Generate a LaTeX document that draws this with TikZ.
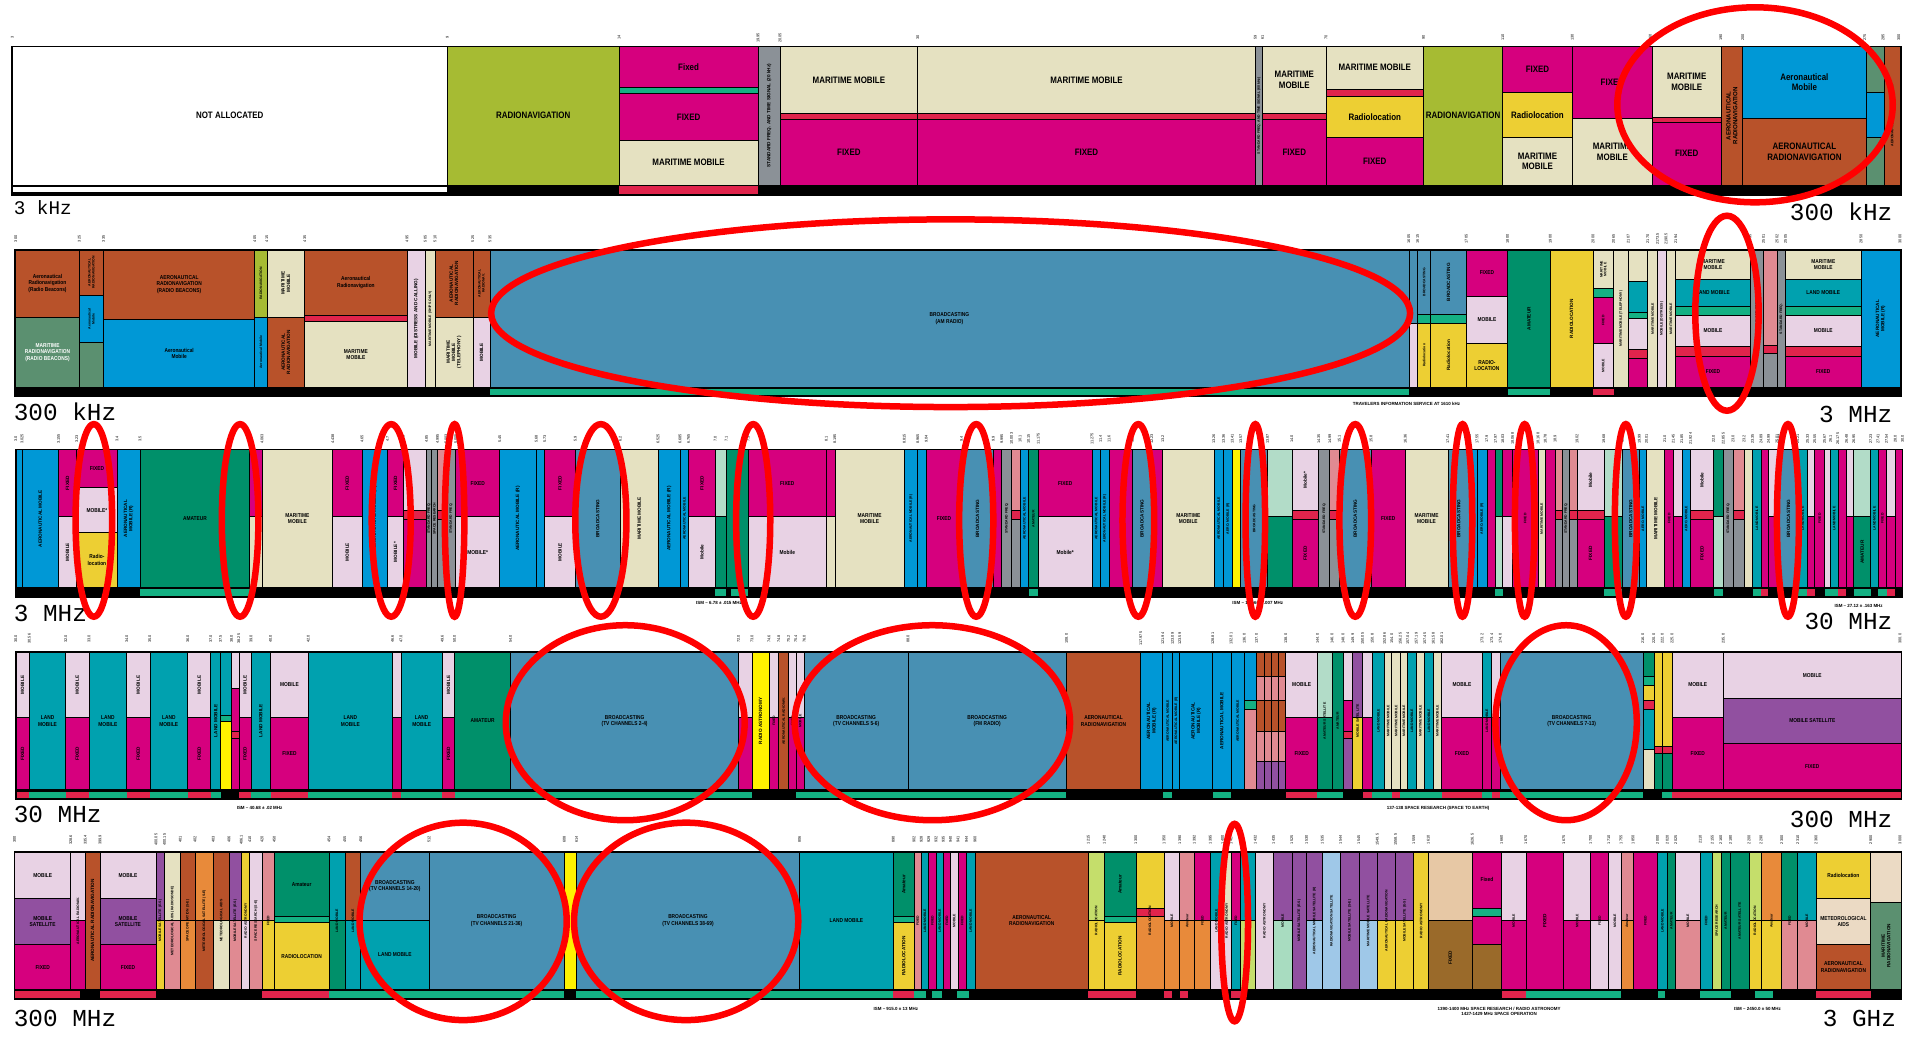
\documentclass[tikz,border=0pt]{standalone}
\usepackage{fontspec}
\setmainfont{Liberation Sans}
\setmonofont{Liberation Mono}
\definecolor{cFix}{HTML}{D6007E}
\definecolor{cMob}{HTML}{E8D2E4}
\definecolor{cMM}{HTML}{E5E1C1}
\definecolor{cRN}{HTML}{A6BB33}
\definecolor{cAR}{HTML}{B8522A}
\definecolor{cAM}{HTML}{0098D6}
\definecolor{cBC}{HTML}{4890B3}
\definecolor{cAmat}{HTML}{00906A}
\definecolor{cRL}{HTML}{EDCF33}
\definecolor{cLM}{HTML}{00A1AF}
\definecolor{cGrey}{HTML}{8B9197}
\definecolor{cPink}{HTML}{E08A92}
\definecolor{cRed}{HTML}{E0244C}
\definecolor{cGr}{HTML}{14B183}
\definecolor{cMRN}{HTML}{5B9070}
\definecolor{cMS}{HTML}{9150A0}
\definecolor{cLG}{HTML}{B2DCC8}
\definecolor{cRA}{HTML}{FFF200}
\definecolor{cMet}{HTML}{EBDAC4}
\definecolor{cLB}{HTML}{9FC8E8}
\definecolor{cOr}{HTML}{E88A3A}
\definecolor{cLime}{HTML}{C5DE6B}
\definecolor{cMint}{HTML}{A8DCC0}
\definecolor{cTan}{HTML}{E7C8A5}
\definecolor{cBrn}{HTML}{9A6A2A}
\newcounter{nn}
\tikzset{
  cell/.style={draw=black,line width=0.35pt},
  lb/.style={font=\fontsize{4.6}{5.2}\selectfont\bfseries,align=center,inner sep=0pt,xscale=0.85},
  lbs/.style={font=\fontsize{2.8}{3.2}\selectfont\bfseries,align=center,inner sep=0pt,xscale=0.85},
  lbv/.style={font=\fontsize{2.3}{2.6}\selectfont\bfseries,align=center,inner sep=0pt,rotate=90},
  lbt/.style={font=\fontsize{1.7}{1.9}\selectfont\bfseries,align=center,inner sep=0pt,rotate=90},
  tick/.style={font=\fontsize{1.9}{2}\selectfont,rotate=90,inner sep=0pt},
  note/.style={font=\fontsize{2.2}{2.4}\selectfont\bfseries,inner sep=0pt},
  ring/.style={draw=red,line width=3.2pt},
  freq/.style={font=\ttfamily\fontsize{12}{12}\selectfont,inner sep=0pt}
}
\newcommand\bxB[5]{\filldraw[cell,fill=#5] (#1,#3) rectangle (#2,#4);}
\newcommand\lbH[5]{\stepcounter{nn}\node[lb] (n\thenn) at ({(#1+#2)/2},{(#3+#4)/2}) {#5};}
\newcommand\lbS[5]{\stepcounter{nn}\node[lbs] (n\thenn) at ({(#1+#2)/2},{(#3+#4)/2}) {#5};}
\newcommand\lbW[5]{\stepcounter{nn}\node[lbs,text=white] (n\thenn) at ({(#1+#2)/2},{(#3+#4)/2}) {#5};}
\newcommand\lbV[5]{\stepcounter{nn}\node[lbv] (n\thenn) at ({(#1+#2)/2},{(#3+#4)/2}) {#5};}
\newcommand\lbT[5]{\stepcounter{nn}\node[lbt] (n\thenn) at ({(#1+#2)/2},{(#3+#4)/2}) {#5};}
\newcommand\colS[3]{\bxB{#1}{#2}{\Ty}{\By}{#3}}
\newcommand\colD[4]{\bxB{#1}{#2}{\Ty}{\Sy}{#3}\bxB{#1}{#2}{\Sy}{\By}{#4}}
\newcommand\colR[4]{\bxB{#1}{#2}{\Ty}{\Sa}{#3}\bxB{#1}{#2}{\Sa}{\Sb}{cRed}\bxB{#1}{#2}{\Sb}{\By}{#4}}
\begin{document}
\begin{tikzpicture}[x=0.6pt,y=-0.6pt]
\useasboundingbox (0,0) rectangle (1568,853);
\fill[white] (0,0) rectangle (1568,853);

% ================= BAND 1 : 3 kHz - 300 kHz =================
\def\Ty{38}\def\By{152}
\fill[black] (10,152) rectangle (1560,160);
\filldraw[cell,fill=white] (10,152.5) rectangle (367,158);
\fill[cRed] (508,152.5) rectangle (622,159);
\bxB{10}{367}{38}{152}{white}\lbH{10}{367}{38}{152}{NOT ALLOCATED}
\bxB{367}{508}{38}{152}{cRN}\lbH{367}{508}{38}{152}{RADIONAVIGATION}
\bxB{508}{622}{38}{72}{cFix}\lbH{508}{622}{38}{72}{Fixed}
\bxB{508}{622}{72}{77}{cGr}
\bxB{508}{622}{77}{115}{cFix}\lbH{508}{622}{77}{115}{FIXED}
\bxB{508}{622}{115}{152}{cMM}\lbH{508}{622}{115}{152}{MARITIME MOBILE}
\bxB{622}{640}{38}{152}{cGrey}\lbV{622}{640}{38}{152}{STANDARD FREQ. AND TIME SIGNAL (20 kHz)}
\bxB{640}{753}{38}{93}{cMM}\lbH{640}{753}{38}{93}{MARITIME MOBILE}
\bxB{640}{753}{93}{98}{cRed}
\bxB{640}{753}{98}{152}{cFix}\lbH{640}{753}{98}{152}{FIXED}
\bxB{753}{1030}{38}{93}{cMM}\lbH{753}{1030}{38}{93}{MARITIME MOBILE}
\bxB{753}{1030}{93}{98}{cRed}
\bxB{753}{1030}{98}{152}{cFix}\lbH{753}{1030}{98}{152}{FIXED}
\bxB{1030}{1036}{38}{152}{cGrey}\lbT{1030}{1036}{38}{152}{STANDARD FREQ. AND TIME SIGNAL (60 kHz)}
\bxB{1036}{1088}{38}{93}{cMM}\lbH{1036}{1088}{38}{93}{MARITIME\\MOBILE}
\bxB{1036}{1088}{93}{98}{cRed}
\bxB{1036}{1088}{98}{152}{cFix}\lbH{1036}{1088}{98}{152}{FIXED}
\bxB{1088}{1168}{38}{73}{cMM}\lbH{1088}{1168}{38}{73}{MARITIME MOBILE}
\bxB{1088}{1168}{73}{79}{cRed}
\bxB{1088}{1168}{79}{113}{cRL}\lbH{1088}{1168}{79}{113}{Radiolocation}
\bxB{1088}{1168}{113}{152}{cFix}\lbH{1088}{1168}{113}{152}{FIXED}
\bxB{1168}{1233}{38}{152}{cRN}\lbH{1168}{1233}{38}{152}{RADIONAVIGATION}
\bxB{1233}{1290}{38}{76}{cFix}\lbH{1233}{1290}{38}{76}{FIXED}
\bxB{1233}{1290}{76}{113}{cRL}\lbH{1233}{1290}{76}{113}{Radiolocation}
\bxB{1233}{1290}{113}{152}{cMM}\lbH{1233}{1290}{113}{152}{MARITIME\\MOBILE}
\bxB{1290}{1356}{38}{97}{cFix}\lbH{1290}{1356}{38}{97}{FIXED}
\bxB{1290}{1356}{97}{152}{cMM}\lbH{1290}{1356}{97}{152}{MARITIME\\MOBILE}
\bxB{1356}{1412}{38}{96}{cMM}\lbH{1356}{1412}{38}{96}{MARITIME\\MOBILE}
\bxB{1356}{1412}{96}{100}{cRed}
\bxB{1356}{1412}{100}{152}{cFix}\lbH{1356}{1412}{100}{152}{FIXED}
\bxB{1412}{1430}{38}{152}{cAR}\stepcounter{nn}\node[lbv,font=\fontsize{3}{3.4}\selectfont\bfseries] (n\thenn) at (1421,95) {AERONAUTICAL\\RADIONAVIGATION};
\bxB{1430}{1531}{38}{97}{cAM}\lbH{1430}{1531}{38}{97}{Aeronautical\\Mobile}
\bxB{1430}{1531}{97}{152}{cAR}\lbH{1430}{1531}{97}{152}{AERONAUTICAL\\RADIONAVIGATION}
\bxB{1531}{1546}{38}{76}{cMRN}\bxB{1531}{1546}{76}{113}{cAM}\bxB{1531}{1546}{113}{152}{cMRN}
\bxB{1546}{1559}{38}{152}{cAR}\lbT{1546}{1559}{38}{152}{AERONAUTICAL RADIONAVIGATION}
\draw[line width=0.7pt] (10,38) rectangle (1560,160);
\foreach \x/\t in {10/3,367/9,508/14,622/19.95,640/20.05,753/30,1030/59,1036/61,1088/70,1168/90,1233/110,1290/130,1354/160,1412/190,1430/200,1530/275,1545/285,1558/300}
  {\node[tick] (ta\x) at (\x,31) {\t};}
\node[freq,anchor=west,font=\ttfamily\fontsize{9.5}{10}\selectfont] (fa1) at (11,170) {3 kHz};
\node[freq,anchor=east] (fa2) at (1553,174) {300 kHz};

% ================= BAND 2 : 300 kHz - 3 MHz =================
\def\Ty{205}\def\By{318}
\fill[black] (12,318) rectangle (1560,325);
\fill[cGr] (402,319) rectangle (1156,324);
\fill[cGr] (1237,319) rectangle (1272,324);
\fill[cRed] (1307,319) rectangle (1324,324);
\bxB{13}{65}{205}{260}{cAR}\lbS{13}{65}{205}{260}{Aeronautical\\Radionavigation\\(Radio Beacons)}
\bxB{13}{65}{260}{318}{cMRN}\lbW{13}{65}{260}{318}{MARITIME\\RADIONAVIGATION\\(RADIO BEACONS)}
\bxB{65}{85}{205}{242}{cAR}\bxB{65}{85}{242}{281}{cAM}\bxB{65}{85}{281}{318}{cMRN}
\lbT{65}{85}{205}{242}{AERONAUTICAL\\RADIONAVIGATION}\lbT{65}{85}{242}{281}{Aeronautical\\Mobile}
\bxB{85}{209}{205}{262}{cAR}\lbS{85}{209}{205}{262}{AERONAUTICAL\\RADIONAVIGATION\\(RADIO BEACONS)}
\bxB{85}{209}{262}{318}{cAM}\lbS{85}{209}{262}{318}{Aeronautical\\Mobile}
\bxB{209}{219}{205}{260}{cRN}\bxB{209}{219}{260}{318}{cAM}
\lbT{209}{219}{205}{260}{RADIONAVIGATION}\lbT{209}{219}{260}{318}{Aeronautical Mobile}
\bxB{219}{250}{205}{260}{cMM}\lbV{219}{250}{205}{260}{MARITIME\\MOBILE}
\bxB{219}{250}{260}{318}{cAR}\lbV{219}{250}{260}{318}{AERONAUTICAL\\RADIONAVIGATION}
\bxB{250}{334}{205}{259}{cAR}\lbS{250}{334}{205}{259}{Aeronautical\\Radionavigation}
\bxB{250}{334}{259}{264}{cRed}
\bxB{250}{334}{264}{318}{cMM}\lbS{250}{334}{264}{318}{MARITIME\\MOBILE}
\bxB{334}{349}{205}{318}{cMob}\lbV{334}{349}{205}{318}{MOBILE (DISTRESS AND CALLING)}
\bxB{349}{357}{205}{318}{cMM}\lbT{349}{357}{205}{318}{MARITIME MOBILE (SHIPS ONLY)}
\bxB{357}{388}{205}{260}{cAR}\lbV{357}{388}{205}{260}{AERONAUTICAL\\RADIONAVIGATION}
\bxB{357}{388}{260}{318}{cMM}\lbV{357}{388}{260}{318}{MARITIME\\MOBILE\\(TELEPHONY)}
\bxB{388}{402}{205}{260}{cAR}\bxB{388}{402}{260}{318}{cMob}\lbV{388}{402}{260}{318}{MOBILE}
\lbT{388}{402}{205}{260}{AERONAUTICAL\\RADIONAV.}
\bxB{402}{1156}{205}{318}{cBC}\lbS{402}{1156}{205}{318}{BROADCASTING\\(AM RADIO)}
\bxB{1156}{1163}{205}{265}{cBC}\bxB{1156}{1163}{265}{318}{cMob}
\bxB{1163}{1174}{205}{258}{cBC}\bxB{1163}{1174}{258}{265}{cGr}\bxB{1163}{1174}{265}{318}{cRL}
\bxB{1174}{1203}{205}{258}{cBC}\bxB{1174}{1203}{258}{265}{cGr}\bxB{1174}{1203}{265}{318}{cRL}
\lbV{1174}{1203}{205}{258}{BROADCASTING}\lbV{1174}{1203}{265}{318}{Radiolocation}
\lbT{1163}{1174}{205}{258}{BROADCASTING}\lbT{1163}{1174}{265}{318}{Radiolocation}
\bxB{1203}{1237}{205}{243}{cFix}\lbS{1203}{1237}{205}{243}{FIXED}
\bxB{1203}{1237}{243}{282}{cMob}\lbS{1203}{1237}{243}{282}{MOBILE}
\bxB{1203}{1237}{282}{318}{cRL}\lbS{1203}{1237}{282}{318}{RADIO-\\LOCATION}
\bxB{1237}{1272}{205}{318}{cAmat}\lbV{1237}{1272}{205}{318}{AMATEUR}
\bxB{1272}{1307}{205}{318}{cRL}\lbV{1272}{1307}{205}{318}{RADIOLOCATION}
\bxB{1307}{1324}{205}{237}{cMM}\bxB{1307}{1324}{237}{244}{cGr}\bxB{1307}{1324}{244}{282}{cFix}\bxB{1307}{1324}{282}{318}{cMob}
\lbT{1307}{1324}{205}{237}{MARITIME\\MOBILE}\lbT{1307}{1324}{244}{282}{FIXED}\lbT{1307}{1324}{282}{318}{MOBILE}
\bxB{1324}{1336}{205}{318}{cMM}\lbT{1324}{1336}{205}{318}{MARITIME MOBILE (TELEPHONY)}
\bxB{1336}{1352}{205}{231}{cMM}\bxB{1336}{1352}{231}{256}{cLM}\bxB{1336}{1352}{256}{261}{cGr}\bxB{1336}{1352}{261}{287}{cMob}\bxB{1336}{1352}{287}{294}{cRed}\bxB{1336}{1352}{294}{318}{cFix}
\bxB{1352}{1360}{205}{318}{cMM}\bxB{1360}{1367}{205}{318}{cMob}\bxB{1367}{1375}{205}{318}{cMM}
\lbT{1352}{1360}{205}{318}{MARITIME MOBILE}\lbT{1360}{1367}{205}{318}{MOBILE (DISTRESS)}\lbT{1367}{1375}{205}{318}{MARITIME MOBILE}
\foreach \a/\b in {1375/1436,1465/1527}{
  \bxB{\a}{\b}{205}{229}{cMM}\bxB{\a}{\b}{229}{251}{cLM}\bxB{\a}{\b}{251}{259}{cGr}
  \bxB{\a}{\b}{259}{284}{cMob}\bxB{\a}{\b}{284}{292}{cRed}\bxB{\a}{\b}{292}{318}{cFix}
  \lbS{\a}{\b}{205}{229}{MARITIME\\MOBILE}\lbS{\a}{\b}{229}{251}{LAND MOBILE}
  \lbS{\a}{\b}{259}{284}{MOBILE}\lbS{\a}{\b}{292}{318}{FIXED}}
\bxB{1436}{1447}{205}{318}{cGrey}\lbT{1436}{1447}{205}{318}{STANDARD FREQ. AND TIME SIGNAL}
\bxB{1447}{1458}{205}{283}{cPink}\bxB{1447}{1458}{283}{290}{cRed}\bxB{1447}{1458}{290}{318}{cGrey}
\bxB{1458}{1465}{205}{318}{cGrey}\lbT{1458}{1465}{205}{318}{STANDARD FREQ.}
\bxB{1527}{1559}{205}{318}{cAM}\lbV{1527}{1559}{205}{318}{AERONAUTICAL\\MOBILE (R)}
\draw[line width=0.7pt] (12,205) rectangle (1560,325);
\foreach \x/\t in {13/300,65/325,85/335,209/405,219/415,250/435,334/495,349/505,357/510,388/525,402/535,1156/1605,1163/1615,1203/1705,1237/1800,1272/1900,1307/2000,1324/2065,1336/2107,1352/2170,1360/2173.5,1367/2190.5,1375/2194,1436/2495,1447/2501,1458/2502,1465/2505,1527/2850,1559/3000}
  {\node[tick] (tb\x) at (\x,196) {\t};}
\node[note] (nb1) at (1154,331) {TRAVELERS INFORMATION SERVICE AT 1610 kHz};
\node[freq,anchor=west] (fb1) at (11,338) {300 kHz};
\node[freq,anchor=east] (fb2) at (1553,340) {3 MHz};

% ================= BAND 3 : 3 MHz - 30 MHz =================
\def\Ty{369}\def\By{482}\def\Sy{424}\def\Sa{419}\def\Sb{426}
\fill[black] (13,482) rectangle (1561,490);
\foreach \a/\b in {115/205,587/596,600/614,844/852,1227/1233,1316/1331,1406/1414,1438/1445,1475/1483,1497/1502,1502/1508,1521/1535,1541/1548}
  {\fill[cGr] (\a,483.5) rectangle (\b,489);}
\foreach \a/\b in {1445/1451,1483/1489,1508/1515,1548/1555}
  {\fill[cRed] (\a,483.5) rectangle (\b,489);}
\foreach \a/\b/\c in {13/18/cAM,18/48/cAM,96/115/cAM,115/205/cAmat,215/273/cMM,297/318/cAM,350/354/cGrey,354/359/cGrey,366/374/cGrey,410/440/cAM,440/447/cAM,472/509/cBC,509/540/cMM,540/558/cAM,558/565/cAM,596/614/cAmat,685/742/cMM,742/753/cAM,753/760/cAM,760/789/cFix,789/815/cBC,815/822/cFix,822/830/cGrey,837/844/cAM,844/852/cAmat,896/903/cAM,903/910/cAM,910/929/cFix,929/945/cBC,945/954/cFix,954/996/cMM,996/1004/cAM,1004/1011/cAM,1011/1018/cRA,1018/1040/cBC,1082/1091/cGrey,1099/1125/cBC,1125/1153/cFix,1153/1188/cMM,1188/1206/cBC,1206/1212/cAM,1212/1220/cAM,1220/1227/cFix,1241/1262/cFix,1262/1268/cMM,1268/1276/cFix,1282/1288/cGrey,1331/1345/cBC,1345/1351/cAM,1351/1366/cMM,1366/1373/cFix,1380/1387/cAM,1414/1422/cGrey,1431/1438/cMM,1438/1445/cLM,1445/1451/cFix,1458/1460/cRA,1460/1475/cBC,1475/1483/cLM,1489/1497/cFix,1497/1502/cMob,1502/1508/cLM,1508/1515/cFix,1535/1541/cLM,1541/1548/cFix,1555/1561/cFix}
  {\colS{\a}{\b}{\c}}
\foreach \a/\b/\c/\d in {48/63/cFix/cMob,205/215/cFix/cMM,273/297/cFix/cMob,318/331/cFix/cMob,374/410/cFix/cMob,447/472/cFix/cMob,565/587/cFix/cMob,587/596/cLG/cAmat,614/678/cFix/cMob,678/685/cFix/cMM,852/896/cFix/cMob,1040/1060/cLG/cAmat,1227/1233/cAmat/cLG,1233/1241/cFix/cMob,1316/1331/cLG/cAmat,1373/1380/cMob/cFix,1406/1414/cAmat/cLG,1451/1458/cMob/cFix,1483/1489/cMob/cFix,1515/1521/cMob/cFix,1521/1535/cLG/cAmat,1548/1555/cMob/cFix}
  {\colD{\a}{\b}{\c}{\d}}
\foreach \a/\b/\c/\d in {331/350/cMob/cFix,359/366/cPink/cGrey,830/837/cPink/cGrey,1060/1082/cMob/cFix,1091/1099/cPink/cGrey,1276/1282/cPink/cGrey,1288/1294/cPink/cGrey,1294/1316/cMob/cFix,1387/1406/cMob/cFix,1422/1431/cPink/cGrey}
  {\colR{\a}{\b}{\c}{\d}}
\bxB{63}{96}{369}{400}{cFix}\bxB{63}{96}{400}{437}{cMob}\bxB{63}{96}{437}{482}{cRL}
\lbV{18}{48}{369}{482}{AERONAUTICAL MOBILE}
\lbV{48}{63}{369}{424}{FIXED}\lbV{48}{63}{424}{482}{MOBILE}
\lbS{63}{96}{369}{400}{FIXED}\lbS{63}{96}{400}{437}{MOBILE*}\lbS{63}{96}{437}{482}{Radio-\\location}
\lbV{96}{115}{369}{482}{AERONAUTICAL\\MOBILE (R)}
\lbS{115}{205}{369}{482}{AMATEUR}
\lbS{215}{273}{369}{482}{MARITIME\\MOBILE}
\lbV{273}{297}{369}{424}{FIXED}\lbV{273}{297}{424}{482}{MOBILE}
\lbV{297}{318}{369}{482}{AERONAUTICAL MOBILE (R)}
\lbV{318}{331}{369}{424}{FIXED}\lbV{318}{331}{424}{482}{MOBILE*}
\lbS{374}{410}{369}{424}{FIXED}\lbS{374}{410}{424}{482}{MOBILE*}
\lbV{410}{440}{369}{482}{AERONAUTICAL MOBILE (R)}
\lbV{447}{472}{369}{424}{FIXED}\lbV{447}{472}{424}{482}{MOBILE}
\lbV{472}{509}{369}{482}{BROADCASTING}
\lbV{509}{540}{369}{482}{MARITIME MOBILE}
\lbV{540}{558}{369}{482}{AERONAUTICAL MOBILE (R)}
\lbV{565}{587}{369}{424}{FIXED}\lbV{565}{587}{424}{482}{Mobile}
\lbV{596}{614}{369}{482}{AMATEUR}
\lbS{614}{678}{369}{424}{FIXED}\lbS{614}{678}{424}{482}{Mobile}
\lbS{685}{742}{369}{482}{MARITIME\\MOBILE}
\lbS{760}{789}{369}{482}{FIXED}
\lbV{789}{815}{369}{482}{BROADCASTING}
\lbS{852}{896}{369}{424}{FIXED}\lbS{852}{896}{424}{482}{Mobile*}
\lbV{929}{945}{369}{482}{BROADCASTING}
\lbS{954}{996}{369}{482}{MARITIME\\MOBILE}
\lbV{1060}{1082}{369}{419}{Mobile*}\lbV{1060}{1082}{426}{482}{FIXED}
\lbV{1099}{1125}{369}{482}{BROADCASTING}
\lbS{1125}{1153}{369}{482}{FIXED}
\lbS{1153}{1188}{369}{482}{MARITIME\\MOBILE}
\lbV{1188}{1206}{369}{482}{BROADCASTING}
\lbV{1294}{1316}{369}{419}{Mobile}\lbV{1294}{1316}{426}{482}{FIXED}
\lbV{1331}{1345}{369}{482}{BROADCASTING}
\lbV{1351}{1366}{369}{482}{MARITIME MOBILE}
\lbV{1387}{1406}{369}{419}{Mobile}\lbV{1387}{1406}{426}{482}{FIXED}
\lbV{1460}{1475}{369}{482}{BROADCASTING}
\lbV{1521}{1535}{424}{482}{AMATEUR}
\foreach \a/\b/\t in {350/354/STANDARD FREQ.,354/359/SPACE RESEARCH,366/374/STANDARD FREQ.,558/565/AERONAUTICAL MOBILE,742/753/AERONAUTICAL MOBILE (R),822/830/STANDARD FREQ.,837/844/AERONAUTICAL MOBILE,844/852/AMATEUR,896/903/AERONAUTICAL MOBILE,903/910/AERONAUTICAL MOBILE (R),996/1004/AERONAUTICAL MOBILE,1004/1011/AERO. MOBILE (R),1018/1040/BROADCASTING,1082/1091/STANDARD FREQ.,1206/1212/AERO. MOBILE,1212/1220/AERO. MOBILE (R),1241/1262/FIXED,1262/1268/MARITIME MOBILE,1282/1288/STANDARD FREQ.,1345/1351/AERO. MOBILE,1366/1373/FIXED,1380/1387/AERO. MOBILE,1414/1422/STANDARD FREQ.,1438/1445/LAND MOBILE,1475/1483/LAND MOBILE,1489/1497/FIXED,1502/1508/LAND MOBILE,1535/1541/LAND MOBILE,1541/1548/FIXED}
  {\lbT{\a}{\b}{369}{482}{\t}}
\draw[line width=0.7pt] (13,369) rectangle (1561,490);
\foreach \x/\t in {13/3.0,18/3.025,48/3.155,63/3.23,96/3.4,115/3.5,205/4.0,215/4.063,273/4.438,297/4.65,318/4.7,331/4.75,350/4.85,359/4.995,366/5.003,374/5.005,410/5.45,440/5.68,447/5.73,472/5.9,509/6.2,540/6.525,558/6.685,565/6.765,587/7.0,596/7.1,614/7.3,678/8.1,685/8.195,742/8.815,753/8.965,760/9.04,789/9.4,815/9.9,822/9.995,830/10.003,837/10.1,844/10.15,852/11.175,896/11.275,903/11.4,910/11.6,929/12.1,945/12.23,954/13.2,996/13.26,1004/13.36,1011/13.41,1018/13.57,1040/13.87,1060/14.0,1082/14.35,1091/14.99,1099/15.1,1125/15.8,1153/16.36,1188/17.41,1206/17.48,1212/17.55,1220/17.9,1227/17.97,1233/18.03,1241/18.068,1262/18.168,1268/18.78,1276/18.9,1294/19.02,1316/19.68,1331/19.8,1345/19.99,1351/20.01,1366/21.0,1373/21.45,1380/21.85,1387/21.924,1406/22.0,1414/22.855,1422/23.0,1431/23.2,1438/23.35,1445/24.89,1451/24.99,1458/25.01,1460/25.07,1475/25.21,1483/25.33,1489/25.55,1497/25.67,1502/26.1,1508/26.175,1515/26.48,1521/26.95,1535/27.23,1541/27.41,1548/27.54,1555/28.0,1561/30.0}
  {\node[tick] (tc\x) at (\x,360) {\t};}
\node[note] (nc1) at (590,495) {ISM -- 6.78 ± .015 MHz};
\node[note] (nc2) at (1032,495) {ISM -- 13.560 ± .007 MHz};
\node[note] (nc3) at (1525,497) {ISM -- 27.12 ± .163 MHz};
\node[freq,anchor=west] (fc1) at (11,503) {3 MHz};
\node[freq,anchor=east] (fc2) at (1553,510) {30 MHz};

% ================= BAND 4 : 30 MHz - 300 MHz =================
\def\Ty{535}\def\By{648}\def\Sy{589}
\fill[black] (13,648) rectangle (1560,656);
\foreach \a/\b in {13/24,54/73,104/123,154/173,196/206,222/253,322/329,363/373,1055/1081,1118/1126,1142/1149,1183/1216,1224/1231,1372/1414,1414/1560}
  {\fill[cRed] (\a,649.5) rectangle (\b,655);}
\foreach \a/\b in {24/54,73/104,123/154,173/181,206/222,253/322,329/363,373/419,419/606,606/617,653/660,660/745,745/875,954/962,995/1010,1081/1093,1093/1102,1126/1136,1136/1142,1149/1155,1155/1162,1162/1169,1169/1176,1176/1183,1216/1224,1231/1348,1364/1372}
  {\fill[cGr] (\a,649.5) rectangle (\b,655);}
\foreach \a/\b/\c in {24/54/cLM,73/104/cLM,123/154/cLM,173/181/cLM,206/222/cLM,253/322/cLM,329/363/cLM,373/419/cAmat,419/606/cBC,617/631/cRA,639/647/cAR,660/745/cBC,745/875/cBC,875/936/cAR,936/954/cAM,954/962/cAM,962/968/cAM,968/995/cAM,995/1010/cAM,1010/1021/cAM,1093/1102/cAmat,1126/1136/cLM,1136/1142/cMM,1142/1149/cMM,1149/1155/cMM,1155/1162/cLM,1162/1169/cMM,1169/1176/cLM,1176/1183/cMM,1231/1348/cBC}
  {\colS{\a}{\b}{\c}}
\foreach \a/\b/\c/\d in {13/24/cMob/cFix,54/73/cMob/cFix,104/123/cMob/cFix,154/173/cMob/cFix,196/206/cMob/cFix,222/253/cMob/cFix,322/329/cMob/cFix,363/373/cMob/cFix,606/617/cMob/cFix,631/639/cMob/cFix,647/653/cMob/cFix,653/660/cMob/cFix,1055/1081/cMob/cFix,1081/1093/cLG/cAmat,1110/1118/cMS/cRL,1118/1126/cMob/cFix,1183/1216/cMob/cFix,1216/1224/cLM/cFix,1224/1231/cMob/cFix,1372/1414/cMob/cFix}
  {\colD{\a}{\b}{\c}{\d}}
\bxB{181}{190}{535}{587}{cLM}\bxB{181}{190}{587}{592}{cGr}\bxB{181}{190}{592}{648}{cRA}
\bxB{190}{196}{535}{565}{cMob}\bxB{190}{196}{565}{600}{cFix}\bxB{190}{196}{600}{606}{cRed}\bxB{190}{196}{606}{648}{cFix}
\bxB{1021}{1031}{535}{575}{cAM}\bxB{1021}{1031}{575}{582}{cGr}\bxB{1021}{1031}{582}{648}{cPink}
\bxB{1031}{1055}{535}{555}{cAR}\bxB{1031}{1055}{555}{575}{cPink}\bxB{1031}{1055}{575}{600}{cAR}\bxB{1031}{1055}{600}{625}{cPink}\bxB{1031}{1055}{625}{648}{cMS}
\foreach \a in {1037,1043,1049}{\draw[line width=0.3pt] (\a,535) -- (\a,648);}
\bxB{1102}{1110}{535}{575}{cMob}\bxB{1102}{1110}{575}{600}{cFix}\bxB{1102}{1110}{600}{606}{cRed}\bxB{1102}{1110}{606}{648}{cMS}
\bxB{1348}{1357}{535}{555}{cAmat}\bxB{1348}{1357}{555}{562}{cGr}\bxB{1348}{1357}{562}{575}{cRL}\bxB{1348}{1357}{575}{582}{cRed}\bxB{1348}{1357}{582}{615}{cLM}\bxB{1348}{1357}{615}{648}{cMM}
\bxB{1357}{1364}{535}{612}{cRL}\bxB{1357}{1364}{612}{618}{cRed}\bxB{1357}{1364}{618}{648}{cAmat}
\bxB{1364}{1372}{535}{612}{cRL}\bxB{1364}{1372}{612}{618}{cRed}\bxB{1364}{1372}{618}{648}{cAmat}
\bxB{1414}{1560}{535}{573}{cMob}\bxB{1414}{1560}{573}{610}{cMS}\bxB{1414}{1560}{610}{648}{cFix}
\foreach \a/\b in {13/24,54/73,104/123,154/173,196/206,363/373}{\lbV{\a}{\b}{535}{589}{MOBILE}\lbV{\a}{\b}{589}{648}{FIXED}}
\foreach \a/\b in {24/54,73/104,123/154,253/322,329/363}{\lbS{\a}{\b}{535}{648}{LAND\\MOBILE}}
\lbV{173}{181}{535}{648}{LAND MOBILE}
\lbV{206}{222}{535}{648}{LAND MOBILE}
\foreach \a/\b in {222/253,1055/1081,1183/1216,1372/1414}{\lbS{\a}{\b}{535}{589}{MOBILE}\lbS{\a}{\b}{589}{648}{FIXED}}
\lbS{373}{419}{535}{648}{AMATEUR}
\lbS{419}{606}{535}{648}{BROADCASTING\\(TV CHANNELS 2-4)}
\lbV{617}{631}{535}{648}{RADIO ASTRONOMY}
\lbS{660}{745}{535}{648}{BROADCASTING\\(TV CHANNELS 5-6)}
\lbS{745}{875}{535}{648}{BROADCASTING\\(FM RADIO)}
\lbS{875}{936}{535}{648}{AERONAUTICAL\\RADIONAVIGATION}
\lbV{936}{954}{535}{648}{AERONAUTICAL\\MOBILE (R)}
\lbV{968}{995}{535}{648}{AERONAUTICAL\\MOBILE (R)}
\lbV{995}{1010}{535}{648}{AERONAUTICAL MOBILE}
\lbS{1231}{1348}{535}{648}{BROADCASTING\\(TV CHANNELS 7-13)}
\lbS{1414}{1560}{535}{573}{MOBILE}\lbS{1414}{1560}{573}{610}{MOBILE SATELLITE}\lbS{1414}{1560}{610}{648}{FIXED}
\foreach \a/\b/\t in {606/617/MOBILE,631/639/FIXED,639/647/AERONAUTICAL RADIONAV.,647/653/FIXED,653/660/MOBILE,954/962/AERONAUTICAL MOBILE,962/968/AERONAUTICAL MOBILE (R),1010/1021/AERONAUTICAL MOBILE,1081/1093/AMATEUR SATELLITE,1093/1102/AMATEUR,1110/1118/MOBILE SATELLITE,1126/1136/LAND MOBILE,1136/1142/MARITIME MOBILE,1142/1149/MARITIME MOBILE,1149/1155/MARITIME MOBILE,1155/1162/LAND MOBILE,1162/1169/MARITIME MOBILE,1169/1176/LAND MOBILE,1176/1183/MARITIME MOBILE,1216/1224/LAND MOBILE,1224/1231/MOBILE}
  {\lbT{\a}{\b}{535}{648}{\t}}
\draw[line width=0.7pt] (13,535) rectangle (1560,656);
\foreach \x/\t in {13/30.0,24/30.56,54/32.0,73/33.0,104/34.0,123/35.0,154/36.0,173/37.0,181/37.5,190/38.0,196/38.25,206/39.0,222/40.0,253/42.0,322/46.6,329/47.0,363/49.6,373/50.0,419/54.0,606/72.0,617/73.0,631/74.6,639/74.8,647/75.2,653/75.4,660/76.0,745/88.0,875/108.0,936/117.975,954/121.94,962/123.09,968/123.59,995/128.81,1010/132.01,1021/136.0,1031/137.0,1055/138.0,1081/144.0,1093/146.0,1102/148.0,1110/149.9,1118/150.05,1126/150.8,1136/152.86,1142/154.0,1149/156.25,1155/157.04,1162/157.19,1169/157.45,1176/161.58,1183/162.01,1216/173.2,1224/173.4,1231/174.0,1348/216.0,1357/220.0,1364/222.0,1372/225.0,1414/235.0,1559/300.0}
  {\node[tick] (td\x) at (\x,524) {\t};}
\node[note] (nd1) at (213,663) {ISM -- 40.68 ± .02 MHz};
\node[note] (nd2) at (1180,663) {137-138 SPACE RESEARCH (SPACE TO EARTH)};
\node[freq,anchor=west] (fd1) at (11,668) {30 MHz};
\node[freq,anchor=east] (fd2) at (1553,672) {300 MHz};

% ================= BAND 5 : 300 MHz - 3 GHz =================
\def\Ty{699}\def\By{812}\def\Sy{755}
\fill[black] (12,812) rectangle (1560,820);
\foreach \a/\b in {12/58,58/66,82/128,215/225,225/270,733/750,893/906,906/932,955/962,968/975,1010/1018,1232/1252,1490/1535}
  {\fill[cRed] (\a,813.5) rectangle (\b,819);}
\foreach \a/\b in {270/283,283/296,296/352,352/463,473/656,656/733,750/760,765/773,785/795,1252/1283,1283/1305,1305/1330,1360/1366,1395/1420,1440/1455}
  {\fill[cGr] (\a,813.5) rectangle (\b,819);}
\foreach \a/\b in {12/58,82/128}{
  \bxB{\a}{\b}{699}{737}{cMob}\bxB{\a}{\b}{737}{775}{cMS}\bxB{\a}{\b}{775}{812}{cFix}
  \lbS{\a}{\b}{699}{737}{MOBILE}\lbS{\a}{\b}{737}{775}{MOBILE\\SATELLITE}\lbS{\a}{\b}{775}{812}{FIXED}}
\foreach \a/\b/\c in {70/82/cAR,352/463/cBC,463/473/cRA,473/656/cBC,656/733/cLM,800/893/cAR,1030/1045/cMob,1060/1072/cMS,1085/1100/cLB,1100/1115/cMS,1160/1172/cRL,1252/1283/cFix,1320/1330/cMob,1340/1360/cFix,1360/1368/cLM,1368/1375/cAmat,1395/1405/cLM,1405/1412/cLime,1412/1420/cAmat,1420/1435/cAmat,750/756/cPink,756/762/cLM,762/768/cFix,768/774/cLM,774/780/cFix,780/786/cMob,786/793/cFix,793/800/cLM}
  {\colS{\a}{\b}{\c}}
\foreach \a/\b/\c/\d in {58/70/cMob/cFix,128/135/cMS/cRL,135/148/cMM/cPink,148/160/cAR/cOr,160/175/cOr/cAR,175/188/cAR/cMM,188/198/cMS/cPink,198/205/cRL/cMob,205/215/cMob/cPink,215/225/cPink/cRL,270/283/cLM/cAmat,283/296/cAR/cLM,296/352/cBC/cLM,893/906/cLime/cRL,955/968/cMob/cOr,968/980/cPink/cOr,980/993/cFix/cOr,993/1003/cLM/cMob,1003/1010/cMM/cMob,1010/1018/cFix/cLM,1018/1030/cLM/cLime,1045/1060/cMS/cMint,1072/1085/cMS/cLB,1115/1130/cMS/cLB,1130/1145/cMS/cRL,1145/1160/cMS/cRL,1172/1208/cTan/cBrn,1232/1252/cMob/cFix,1283/1305/cMob/cFix,1305/1320/cFix/cMob,1330/1340/cPink/cOr,1375/1395/cMob/cPink,1435/1445/cLime/cRL,1445/1462/cOr/cRL,1462/1475/cAmat/cPink,1475/1490/cLM/cPink}
  {\colD{\a}{\b}{\c}{\d}}
\foreach \a/\b in {225/270,733/750,906/932}{
  \bxB{\a}{\b}{699}{752}{cAmat}\bxB{\a}{\b}{752}{757}{cGr}\bxB{\a}{\b}{757}{812}{cRL}}
\bxB{932}{955}{699}{745}{cRL}\bxB{932}{955}{745}{752}{cRed}\bxB{932}{955}{752}{812}{cOr}
\bxB{1208}{1232}{699}{745}{cFix}\bxB{1208}{1232}{745}{752}{cGr}\bxB{1208}{1232}{752}{775}{cFix}\bxB{1208}{1232}{775}{812}{cBrn}
\bxB{1490}{1535}{699}{737}{cRL}\bxB{1490}{1535}{737}{775}{cMet}\bxB{1490}{1535}{775}{812}{cAR}
\bxB{1535}{1560}{699}{740}{cMet}\bxB{1535}{1560}{740}{812}{cMRN}
\lbV{70}{82}{699}{812}{AERONAUTICAL RADIONAVIGATION}
\lbS{225}{270}{699}{752}{Amateur}\lbS{225}{270}{757}{812}{RADIOLOCATION}
\lbS{296}{352}{699}{755}{BROADCASTING\\(TV CHANNELS 14-20)}\lbS{296}{352}{755}{812}{LAND MOBILE}
\lbS{352}{463}{699}{812}{BROADCASTING\\(TV CHANNELS 21-36)}
\lbS{473}{656}{699}{812}{BROADCASTING\\(TV CHANNELS 38-69)}
\lbS{656}{733}{699}{812}{LAND MOBILE}
\lbV{733}{750}{699}{752}{Amateur}\lbV{733}{750}{757}{812}{RADIOLOCATION}
\lbS{800}{893}{699}{812}{AERONAUTICAL\\RADIONAVIGATION}
\lbV{906}{932}{699}{752}{Amateur}\lbV{906}{932}{757}{812}{RADIOLOCATION}
\lbV{1252}{1283}{699}{812}{FIXED}
\lbV{1172}{1208}{760}{812}{FIXED}
\lbS{1208}{1232}{699}{745}{Fixed}
\lbS{1490}{1535}{699}{737}{Radiolocation}\lbS{1490}{1535}{737}{775}{METEOROLOGICAL\\AIDS}\lbS{1490}{1535}{775}{812}{AERONAUTICAL\\RADIONAVIGATION}
\lbV{1535}{1560}{740}{812}{MARITIME\\RADIONAVIGATION}
\foreach \a/\b/\t in {58/70/AERONAUTICAL RADIONAV.,128/135/MOBILE SATELLITE (E-S),135/148/METEOROLOGICAL AIDS (RADIOSONDE),148/160/SPACE OPERATION (S-E),160/175/METEOROLOGICAL SATELLITE (S-E),175/188/METEOROLOGICAL AIDS,188/198/MOBILE SATELLITE (E-S),198/205/RADIO ASTRONOMY,205/215/SPACE RESEARCH (S-E),215/225/FIXED,270/283/LAND MOBILE,283/296/LAND MOBILE,750/756/FIXED,756/762/LAND MOBILE,762/768/FIXED,768/774/LAND MOBILE,774/780/FIXED,780/786/MOBILE,786/793/FIXED,793/800/LAND MOBILE,893/906/RADIOLOCATION,932/955/RADIOLOCATION,955/968/MOBILE,968/980/Amateur,980/993/FIXED,993/1003/LAND MOBILE,1003/1010/RADIO ASTRONOMY,1010/1018/FIXED,1018/1030/LAND MOBILE,1030/1045/RADIO ASTRONOMY,1045/1060/MOBILE,1060/1072/MOBILE SATELLITE (E-S),1072/1085/AERONAUTICAL MOBILE SATELLITE (R),1085/1100/RADIONAVIGATION SATELLITE,1100/1115/MOBILE SATELLITE (S-E),1115/1130/MARITIME MOBILE SATELLITE,1130/1145/AERONAUTICAL RADIONAVIGATION,1145/1160/MOBILE SATELLITE (E-S),1160/1172/RADIO ASTRONOMY,1232/1252/MOBILE,1283/1305/MOBILE,1305/1320/FIXED,1320/1330/MOBILE,1330/1340/Amateur,1340/1360/FIXED,1360/1368/LAND MOBILE,1368/1375/AMATEUR,1375/1395/MOBILE,1395/1405/FIXED,1405/1412/SPACE RESEARCH,1412/1420/AMATEUR,1420/1435/AMATEUR SATELLITE,1435/1445/RADIOLOCATION,1445/1462/Amateur,1462/1475/FIXED,1475/1490/MOBILE}
  {\lbT{\a}{\b}{699}{812}{\t}}
\draw[line width=0.7pt] (12,699) rectangle (1560,820);
\foreach \x/\t in {12/300,58/328.6,70/335.4,82/399.9,128/400.05,135/400.15,148/401,160/402,175/403,188/406,198/406.1,205/410,215/420,225/450,270/454,283/455,296/456,352/512,463/608,473/614,656/806,733/890,750/902,756/928,762/929,768/932,774/935,780/940,786/941,793/944,800/960,893/1215,906/1240,932/1300,955/1350,968/1390,980/1392,993/1395,1003/1400,1010/1427,1018/1429.5,1030/1432,1045/1435,1060/1525,1072/1530,1085/1535,1100/1544,1115/1545,1130/1549.5,1145/1558.5,1160/1559,1172/1610,1208/1626.5,1232/1660,1252/1670,1283/1675,1305/1700,1320/1710,1330/1755,1340/1850,1360/2000,1368/2020,1375/2025,1395/2110,1405/2155,1412/2160,1420/2180,1435/2200,1445/2290,1462/2300,1475/2310,1490/2360,1535/2900,1559/3000}
  {\node[tick] (te\x) at (\x,689) {\t};}
\node[note] (ne1) at (735,828) {ISM -- 915.0 ± 13 MHz};
\node[note,align=center] (ne2) at (1230,830) {1390-1400 MHz SPACE RESEARCH / RADIO ASTRONOMY\\1427-1429 MHz SPACE OPERATION};
\node[note] (ne3) at (1442,828) {ISM -- 2450.0 ± 50 MHz};
\node[freq,anchor=west] (fe1) at (11,836) {300 MHz};
\node[freq,anchor=east] (fe2) at (1556,836) {3 GHz};

% ================= RED ELLIPSES =================
\draw[ring] (1440,86) ellipse [x radius=113, y radius=80];
\draw[ring] (780,257) ellipse [x radius=377, y radius=77];
\draw[ring] (1417,257) ellipse [x radius=26, y radius=80];
\foreach \cx/\rx in {77/15,197/15,321/16,373/8,493/21,618/14,801/14,934/13,1030/8,1112/13,1200/8,1251/8,1334/9,1467/9}
  {\draw[ring] (\cx,427) ellipse [x radius=\rx, y radius=79];}
\draw[ring] (513,593) ellipse [x radius=98, y radius=80];
\draw[ring] (765,593) ellipse [x radius=113, y radius=80];
\draw[ring] (1285,593) ellipse [x radius=58, y radius=80];
\draw[ring] (380,756) ellipse [x radius=85, y radius=81];
\draw[ring] (563,756) ellipse [x radius=92, y radius=81];
\draw[ring] (1013,757) ellipse [x radius=11, y radius=81];
\end{tikzpicture}
\end{document}
